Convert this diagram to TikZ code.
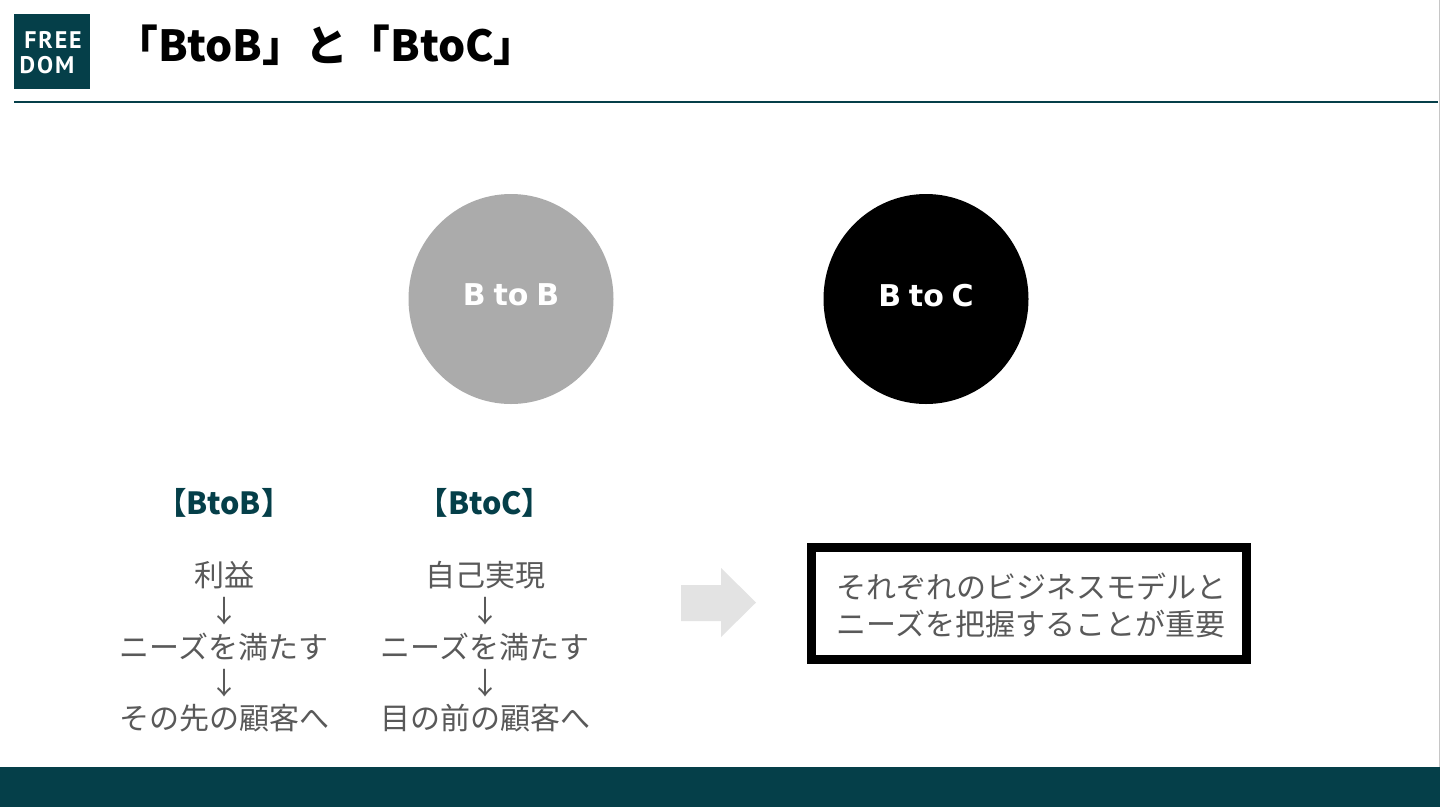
\documentclass[tikz,border=0pt]{standalone}
\usepackage{fontspec}
\setmainfont{Noto Sans CJK JP}
\newfontfamily\logofont[LetterSpace=8]{PT Sans}
\newfontfamily\latinfont[WordSpace=0.75]{DejaVu Sans}
\definecolor{teal0}{HTML}{053F49}
\definecolor{body0}{HTML}{595959}
\tikzset{
  bodytext/.style={text=body0,font=\fontsize{30}{30}\selectfont,inner sep=0pt,anchor=center},
  headtext/.style={text=teal0,font=\fontsize{30.5}{30.5}\selectfont\bfseries,inner sep=0pt,anchor=center},
  circletext/.style={text=white,font=\latinfont\fontsize{30}{30}\selectfont\bfseries,inner sep=0pt,anchor=center},
  logotext/.style={text=white,font=\logofont\fontsize{24}{24}\selectfont\bfseries,inner sep=0pt,anchor=center},
}
\begin{document}
\begin{tikzpicture}[x=1pt,y=-1pt]
\useasboundingbox (0,0) rectangle (1440,807);
\fill[white] (0,0) rectangle (1440,807);
\fill[gray!45] (1438.5,0) rectangle (1440,767);
\fill[teal0] (14,14) rectangle (90,88.5);
\node[logotext] (logo1) at (53,40) {FREE};
\node[logotext] (logo2) at (47,65) {DOM};
\node[anchor=west,inner sep=0pt,font=\fontsize{42.8}{42.8}\selectfont\bfseries] (title) at (115,45) {「BtoB」と「BtoC」};
\fill[teal0] (14,101) rectangle (1438,103.2);
\path[fill=black!33] (511,299) ellipse [x radius=102.5,y radius=105];
\node[circletext] (bb) at (511,295) {B to B};
\path[fill=black] (926,299) ellipse [x radius=102.5,y radius=105];
\node[circletext] (bc) at (926,296) {B to C};
\node[headtext] (h1) at (224,503) {【BtoB】};
\node[headtext] (h2) at (485,503) {【BtoC】};
\node[bodytext] (a1) at (224,575) {利益};
\node[bodytext] (a2) at (224,611.5) {↓};
\node[bodytext] (a3) at (224,647) {ニーズを満たす};
\node[bodytext] (a4) at (224,683.5) {↓};
\node[bodytext] (a5) at (224,718) {その先の顧客へ};
\node[bodytext] (c1) at (485,575) {自己実現};
\node[bodytext] (c2) at (485,611.5) {↓};
\node[bodytext] (c3) at (485,647) {ニーズを満たす};
\node[bodytext] (c4) at (485,683.5) {↓};
\node[bodytext] (c5) at (485,718) {目の前の顧客へ};
\fill[black!11] (681,585) -- (721,585) -- (721,568) -- (756,602.5) -- (721,637) -- (721,621) -- (681,621) -- cycle;
\draw[line width=9pt,miter limit=10] (811.5,547.5) rectangle (1246.5,659.5);
\node[bodytext] (r1) at (1031,587) {それぞれのビジネスモデルと};
\node[bodytext] (r2) at (1031,624) {ニーズを把握することが重要};
\fill[teal0] (0,767) rectangle (1440,807);
\end{tikzpicture}
\end{document}
